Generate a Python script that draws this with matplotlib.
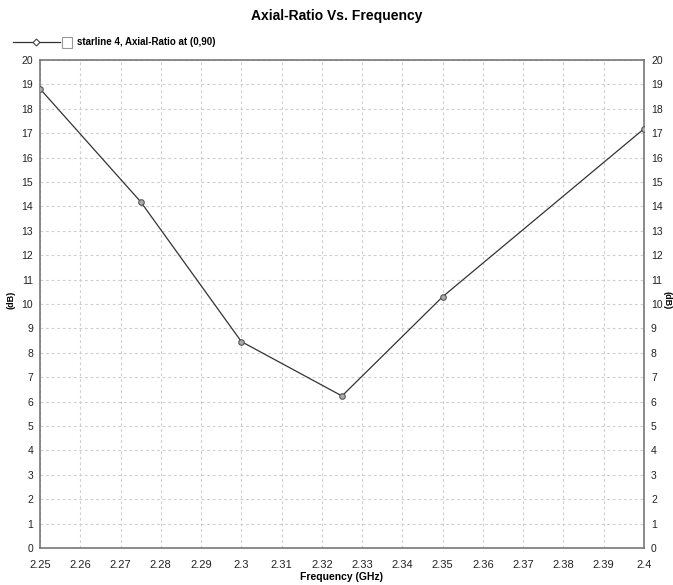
import matplotlib
matplotlib.use("Agg")
import matplotlib.pyplot as plt
from matplotlib.lines import Line2D
from matplotlib.patches import Rectangle

plt.rcParams['font.family'] = ['Liberation Sans Narrow', 'Liberation Sans', 'DejaVu Sans']

freq = [2.25, 2.275, 2.3, 2.325, 2.35, 2.4]
axial_ratio = [18.82, 14.19, 8.46, 6.23, 10.30, 17.18]

x_ticks = [2.25, 2.26, 2.27, 2.28, 2.29, 2.3, 2.31, 2.32, 2.33, 2.34,
           2.35, 2.36, 2.37, 2.38, 2.39, 2.4]
x_tick_labels = ["2.25", "2.26", "2.27", "2.28", "2.29", "2.3", "2.31", "2.32",
                 "2.33", "2.34", "2.35", "2.36", "2.37", "2.38", "2.39", "2.4"]
y_ticks = list(range(0, 21))

W, H = 673, 585
fig = plt.figure(figsize=(W / 100, H / 100), dpi=100)
ax = fig.add_axes([40 / W, 37 / H, (644 - 40) / W, (548 - 60) / H])

ax.plot(freq, axial_ratio, color='#333333', lw=0.9, marker='o', ms=4,
        mfc='#aaaaaa', mec='#555555', mew=0.8, zorder=3)

ax.set_xlim(2.25, 2.4)
ax.set_ylim(0, 20)
ax.set_xticks(x_ticks)
ax.set_xticklabels(x_tick_labels)
ax.set_yticks(y_ticks)
ax.tick_params(axis='both', length=0, labelsize=8, colors='#222222')
ax.tick_params(axis='x', pad=9)
ax.tick_params(axis='y', pad=5, right=True, labelright=True)
ax.tick_params(axis='y', which='both', labelsize=7.5)
ax.grid(True, color='#cfcfcf', linestyle=(0, (2.5, 2.5)), lw=0.8)
for s in ax.spines.values():
    s.set_color('#777777')
    s.set_linewidth(1.2)

ax.set_xlabel("Frequency (GHz)", fontsize=7.5, fontweight='bold', labelpad=1)
fig.text(11 / W, 1 - 300 / H, "(dB)", rotation=90, fontsize=6.5, fontweight='bold',
         ha='center', va='center')
fig.text(667 / W, 1 - 300 / H, "(dB)", rotation=270, fontsize=6.5, fontweight='bold',
         ha='center', va='center')

fig.text(337 / W, 1 - 16 / H, "Axial-Ratio Vs. Frequency", fontsize=10,
         fontweight='bold', ha='center', va='center')

# legend entry: line with marker, empty check box, series name
ly = 1 - 42 / H
fig.add_artist(Line2D([13 / W, 60 / W], [ly, ly], color='#333333', lw=0.9))
fig.add_artist(Line2D([36 / W], [ly], marker='D', ms=3.5, mfc='white',
                      mec='#444444', mew=0.8, color='#333333'))
fig.add_artist(Rectangle((62 / W, ly - 6 / H), 10 / W, 11 / H, fill=False,
                         ec='#999999', lw=0.8, transform=fig.transFigure))
fig.text(77 / W, ly, "starline 4, Axial-Ratio at (0,90)", fontsize=7,
         fontweight='bold', ha='left', va='center')

fig.savefig("out.png", dpi=100)
